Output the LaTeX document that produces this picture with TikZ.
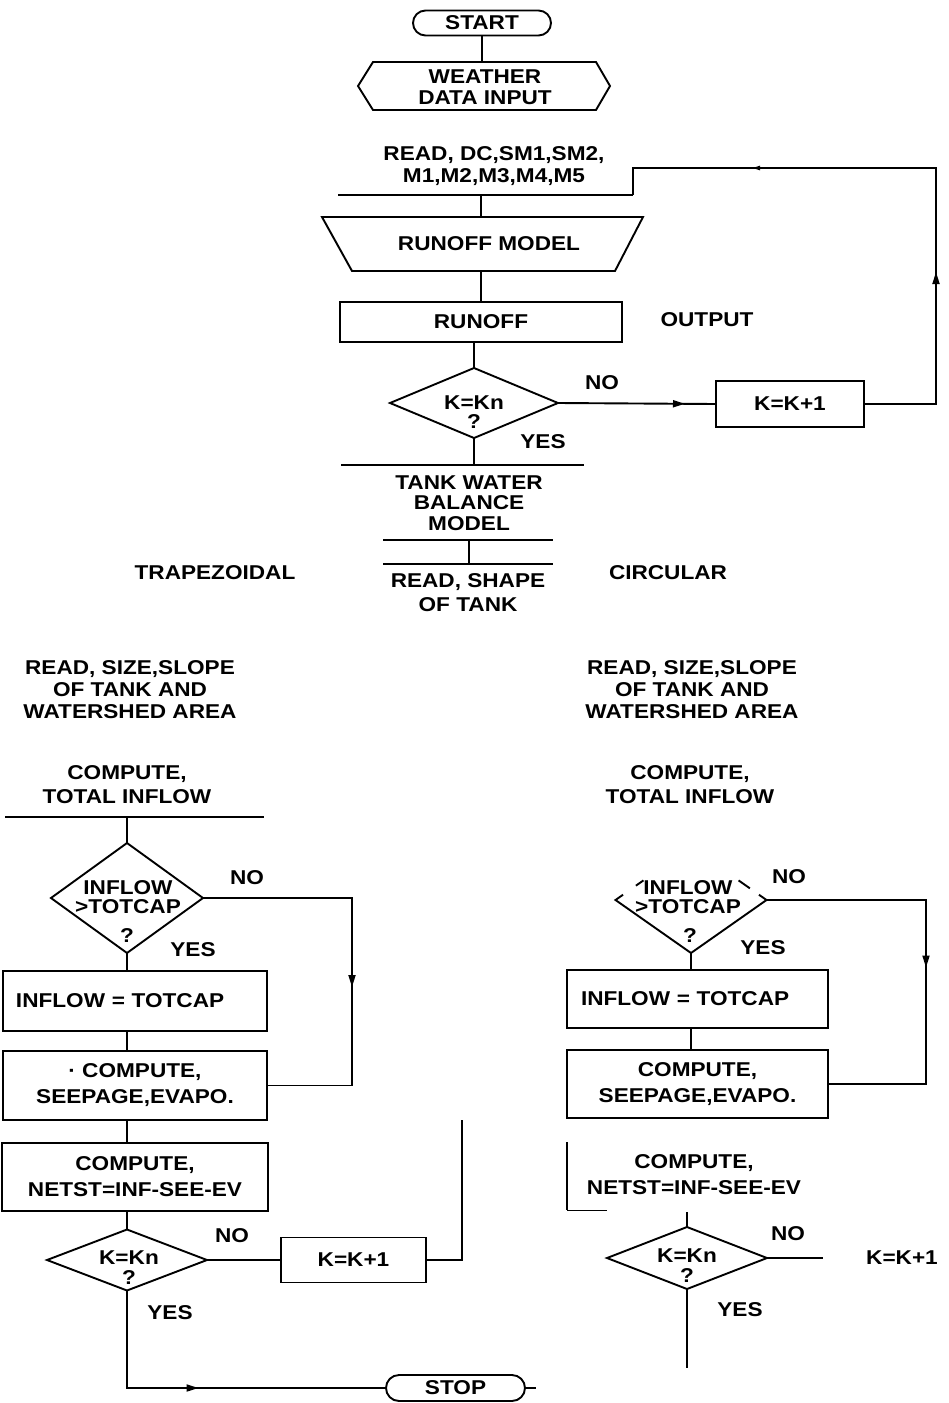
\documentclass[tikz,border=0pt]{standalone}
\usepackage{fontspec}
\setmainfont{Liberation Sans}[FakeStretch=1.13]
\usetikzlibrary{shapes.geometric,shapes.misc,arrows.meta,decorations.markings,calc}
\tikzset{
  lbl/.style={inner sep=0pt, outer sep=0pt, align=center, font=\bfseries\fontsize{20}{#1}\selectfont},
  lbl/.default=22,
  boxnode/.style={draw, rectangle, inner sep=0pt, outer sep=0pt, align=center, font=\bfseries\fontsize{20}{26}\selectfont},
  termnode/.style={draw, rounded rectangle, inner sep=0pt, outer sep=0pt, font=\bfseries\fontsize{20}{22}\selectfont},
  decnode/.style={draw, diamond, inner sep=0pt, outer sep=0pt},
  arrowat/.style={decoration={markings, mark=at position #1 with {\arrow{Triangle[length=12pt,width=7pt]}}}, postaction={decorate}},
}
\begin{document}
\begin{tikzpicture}[x=1pt,y=-1pt,line width=1.9pt]
\fill[white] (0,0) rectangle (948,1403);
\useasboundingbox (0,0) rectangle (948,1403);

% ---------- top part ----------
\node[termnode, minimum width=138pt, minimum height=25pt] (start) at (482,23) {START};
\coordinate (hexN) at (482,62);
\draw (start.south) -- (hexN);
\draw (358,86) -- (373,62) -- (596,62) -- (610,86) -- (596,110) -- (373,110) -- cycle;
\node[lbl=21] (wdi) at (485,87) {WEATHER\\DATA INPUT};

\node[lbl] (rdc) at (494,166) {READ, DC,SM1,SM2,\\M1,M2,M3,M4,M5};
\coordinate (l1w) at (338,195);
\coordinate (l1e) at (633,195);
\draw (l1w) -- (l1e);
\coordinate (l1m) at (481,195);
\coordinate (trN) at (481,217);
\draw (l1m) -- (trN);
\draw (322,217) -- (643,217) -- (615,271) -- (352,271) -- cycle;
\node[lbl] (rom) at (489,244) {RUNOFF MODEL};
\coordinate (trS) at (481,271);
\node[boxnode, minimum width=282pt, minimum height=40pt] (runoff) at (481,322) {RUNOFF};
\draw (trS) -- (runoff.north);
\node[lbl] (outp) at (707,320) {OUTPUT};

\node[decnode, minimum width=168pt, minimum height=70pt] (d1) at (474,403) {};
\node[lbl=19] (d1t) at (474,412) {K=Kn\\?};
\draw (runoff.south -| d1.north) -- (d1.north);
\node[lbl] (no1) at (602,383) {NO};
\node[lbl] (yes1) at (543,442) {YES};
\node[boxnode, minimum width=148pt, minimum height=46pt] (k1) at (790,404) {K=K+1};
\draw[arrowat=127pt] (d1.east) -- (k1.west);
\coordinate (lpA) at (936,404);
\coordinate (lpB) at (936,168);
\coordinate (lpC) at (633,168);
\draw[decoration={markings,
      mark=at position 204pt with {\arrow{Triangle[length=12pt,width=7pt]}},
      mark=at position 492pt with {\arrow{Triangle[length=8pt,width=4pt]}}},
      postaction={decorate}]
  (k1.east) -- (lpA) -- (lpB) -- (lpC) -- (l1e);

\coordinate (tkm) at (474,465);
\draw (d1.south) -- (tkm);
\draw (341,465) -- (584,465);
\node[lbl=20.5] (tank) at (469,503) {TANK WATER\\BALANCE\\MODEL};
\draw (383,540) -- (553,540);
\draw (383,564) -- (553,564);
\coordinate (s1) at (469,540);
\coordinate (s2) at (469,564);
\draw (s1) -- (s2);
\node[lbl=24] (shape) at (468,593) {READ, SHAPE\\OF TANK};
\node[lbl] (trapz) at (215,573) {TRAPEZOIDAL};
\node[lbl] (circ) at (668,573) {CIRCULAR};

% ---------- left branch ----------
\node[lbl=22] (rsL) at (130,690) {READ, SIZE,SLOPE\\OF TANK AND\\WATERSHED AREA};
\node[lbl=24] (ctL) at (127,785) {COMPUTE,\\TOTAL INFLOW};
\draw (5,817) -- (264,817);
\coordinate (ctLs) at (127,817);
\node[decnode, minimum width=152pt, minimum height=110pt] (d2) at (127,898) {};
\draw (ctLs) -- (d2.north);
\node[lbl=19] (d2t) at (128,897) {INFLOW\\>TOTCAP};
\node[lbl] (d2q) at (127,936) {?};
\node[lbl] (no2) at (247,878) {NO};
\node[lbl] (yes2) at (193,950) {YES};
\node[boxnode, minimum width=264pt, minimum height=60pt, text width=238pt, align=left] (inL) at (135,1001) {INFLOW = TOTCAP};
\draw (d2.south) -- (inL.north -| d2.south);
\node[boxnode, minimum width=264pt, minimum height=69pt] (seL) at (135,1085.5) {· COMPUTE,\\SEEPAGE,EVAPO.};
\draw (inL.south -| d2.south) -- (seL.north -| d2.south);
\coordinate (lpL1) at (352,898);
\coordinate (lpL2) at (352,1085.5);
\draw[arrowat=238pt] (d2.east) -- (lpL1) -- (lpL2) -- (seL.east);

\node[boxnode, minimum width=266pt, minimum height=68pt] (nsL) at (135,1177) {COMPUTE,\\NETST=INF-SEE-EV};
\draw (seL.south -| d2.south) -- (nsL.north -| d2.south);
\node[decnode, minimum width=160pt, minimum height=61pt] (d3) at (127,1260) {};
\draw (nsL.south -| d3.north) -- (d3.north);
\node[lbl=20] (d3t) at (129,1268) {K=Kn\\?};
\node[lbl] (no3) at (232,1236) {NO};
\node[lbl] (yes3) at (170,1313) {YES};
\node[boxnode, minimum width=145pt, minimum height=45pt] (k2) at (353.5,1260) {K=K+1};
\draw (d3.east) -- (k2.west);
\coordinate (lpK1) at (462,1260);
\coordinate (lpK2) at (462,1120);
\draw (k2.east) -- (lpK1) -- (lpK2);
\node[termnode, minimum width=139pt, minimum height=26pt] (stop) at (455.5,1388) {STOP};
\coordinate (yL) at (127,1388);
\draw[arrowat=169pt] (d3.south) -- (yL) -- (stop.west);
\coordinate (stt) at (536,1388);
\draw (stop.east) -- (stt);

% ---------- right branch ----------
\node[lbl=22] (rsR) at (692,690) {READ, SIZE,SLOPE\\OF TANK AND\\WATERSHED AREA};
\node[lbl=24] (ctR) at (690,785) {COMPUTE,\\TOTAL INFLOW};
\node[diamond, inner sep=0pt, outer sep=0pt, minimum width=151pt, minimum height=106pt] (d4) at (691,900) {};
\draw ($(d4.west)!0.1!(d4.north)$) -- (d4.west) -- (d4.south) -- (d4.east) -- ($(d4.east)!0.1!(d4.north)$);
\draw ($(d4.west)!0.27!(d4.north)$) -- ($(d4.west)!0.37!(d4.north)$);
\draw ($(d4.east)!0.22!(d4.north)$) -- ($(d4.east)!0.37!(d4.north)$);
\node[lbl=19] (d4t) at (688,897) {INFLOW\\>TOTCAP};
\node[lbl] (d4q) at (690,936) {?};
\node[lbl] (no4) at (789,877) {NO};
\node[lbl] (yes4) at (763,948) {YES};
\node[boxnode, minimum width=261pt, minimum height=58pt, text width=233pt, align=left] (inR) at (697.5,999) {INFLOW = TOTCAP};
\draw (d4.south) -- (inR.north -| d4.south);
\node[boxnode, minimum width=261pt, minimum height=68pt] (seR) at (697.5,1084) {COMPUTE,\\SEEPAGE,EVAPO.};
\draw (inR.south -| d4.south) -- (seR.north -| d4.south);
\coordinate (lpR1) at (926,900);
\coordinate (lpR2) at (926,1084);
\draw[arrowat=227pt] (d4.east) -- (lpR1) -- (lpR2) -- (seR.east);

\node[lbl=26] (nsR) at (694,1175) {COMPUTE,\\NETST=INF-SEE-EV};
\coordinate (brT) at (567,1142);
\coordinate (brB) at (567,1210);
\coordinate (brE) at (607,1210);
\draw (brT) -- (brB);
\draw[line width=0.8pt] (brB) -- (brE);
\coordinate (nsRb) at (687,1212);
\node[decnode, minimum width=160pt, minimum height=62pt] (d5) at (687,1258) {};
\draw (nsRb) -- (d5.north);
\node[lbl=20] (d5t) at (687,1266) {K=Kn\\?};
\node[lbl] (no5) at (788,1234) {NO};
\node[lbl] (yes5) at (740,1310) {YES};
\coordinate (noR) at (823,1258);
\draw (d5.east) -- (noR);
\node[lbl] (k3) at (902,1258) {K=K+1};
\coordinate (yR) at (687,1368);
\draw (d5.south) -- (yR);
\end{tikzpicture}
\end{document}
